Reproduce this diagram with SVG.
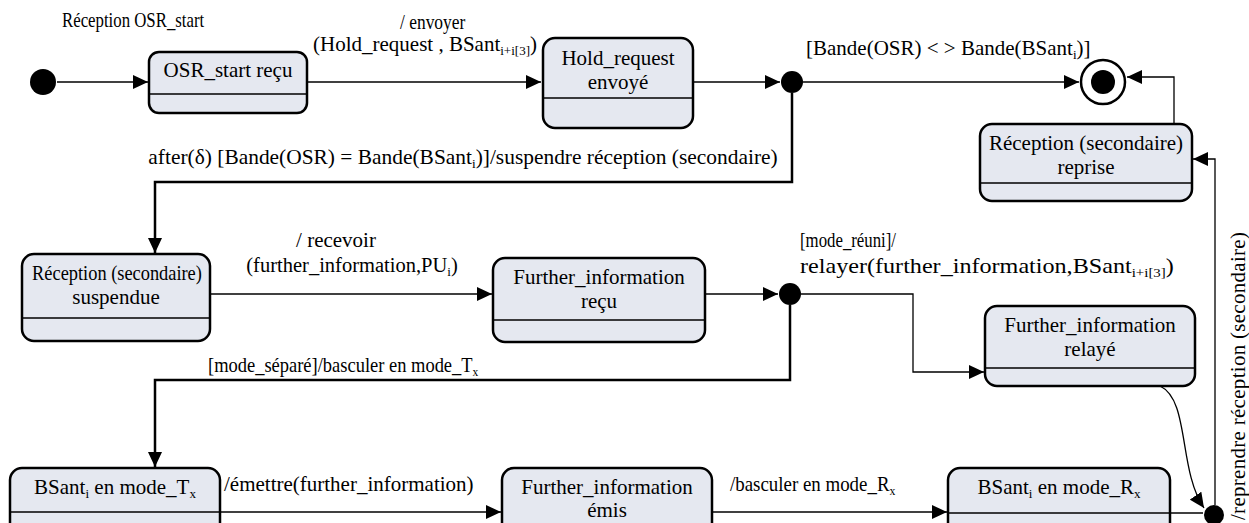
<svg xmlns="http://www.w3.org/2000/svg" width="1249" height="523" viewBox="0 0 1249 523">
<defs>
<style>
.st{fill:#e5e8f0;stroke:#000;stroke-width:2.5}
.dv{fill:none;stroke:#000;stroke-width:1.5}
.t{font-family:"Liberation Serif","Times New Roman",serif;font-size:21px;fill:#000}
.m{text-anchor:middle}
.sb{font-size:13px}
.c{fill:none;stroke:#000;stroke-width:1.3}
.ck{fill:none;stroke:#000;stroke-width:2.5}
.dot{fill:#000}
</style>
<marker id="ah" markerWidth="16" markerHeight="14" refX="15" refY="7" orient="auto" markerUnits="userSpaceOnUse"><path d="M0,0 L15,7 L0,14 z" fill="#000"/></marker>
</defs>
<rect width="1249" height="523" fill="#fff"/>

<g id="connectors">
<path class="c" d="M57,82 H148" marker-end="url(#ah)"/>
<path class="c" d="M307,82 H541" marker-end="url(#ah)"/>
<path class="c" d="M693,82 H780" marker-end="url(#ah)"/>
<path class="c" d="M803,82 H1079" marker-end="url(#ah)"/>
<path class="c" d="M1174,124 V77 H1127" marker-end="url(#ah)"/>
<path class="ck" d="M792,93 V182 H155 V253" marker-end="url(#ah)"/>
<path class="c" d="M210,294 H492" marker-end="url(#ah)"/>
<path class="c" d="M705,294 H778" marker-end="url(#ah)"/>
<path class="c" d="M801,294 H913 V372 H984" marker-end="url(#ah)"/>
<path class="ck" d="M790,305 V380 H155 V467" marker-end="url(#ah)"/>
<path class="c" d="M220,512 H501" marker-end="url(#ah)"/>
<path class="c" d="M712,512 H947" marker-end="url(#ah)"/>
<path class="c" d="M1157,513 H1203"/>
<path class="c" d="M1160,386 C1190,400 1178,470 1204,508" marker-end="url(#ah)"/>
<path class="c" d="M1215,505 V159 H1193" marker-end="url(#ah)"/>
<text class="t" transform="translate(62,27) scale(0.8,1)">Réception OSR_start</text>
<text class="t" transform="translate(400,29) scale(0.83,1)">/ envoyer</text>
<text class="t m" x="425" y="51">(Hold_request , BSant<tspan class="sb" dy="4">i+i[3]</tspan><tspan dy="-4">)</tspan></text>
<text class="t" x="806" y="55">[Bande(OSR) &lt; &gt; Bande(BSant<tspan class="sb" dy="4">i</tspan><tspan dy="-4">)]</tspan></text>
<text class="t m" transform="translate(463,164) scale(1.02,1)">after(δ) [Bande(OSR) = Bande(BSant<tspan class="sb" dy="4">i</tspan><tspan dy="-4">)]/suspendre réception (secondaire)</tspan></text>
<text class="t m" x="336" y="247">/ recevoir</text>
<text class="t m" x="352" y="272" style="font-size:20.5px">(further_information,PU<tspan class="sb" dy="4">i</tspan><tspan dy="-4">)</tspan></text>
<text class="t" transform="translate(800,247) scale(0.8,1)">[mode_réuni]/</text>
<text class="t" transform="translate(800,273) scale(1.15,1)">relayer(further_information,BSant<tspan class="sb" dy="4">i+i[3]</tspan><tspan dy="-4">)</tspan></text>
<text class="t" transform="translate(208,372) scale(0.88,1)">[mode_séparé]/basculer en mode_T<tspan class="sb" dy="4">x</tspan></text>
<text class="t" x="224" y="491">/émettre(further_information)</text>
<text class="t" transform="translate(730,491) scale(0.9,1)">/basculer en mode_R<tspan class="sb" dy="4">x</tspan></text>
<text class="t" transform="translate(1245,520) rotate(-90)" textLength="288" lengthAdjust="spacing">/reprendre réception (secondaire)</text>
</g>

<g id="initial"><circle class="dot" cx="43" cy="82" r="13"/></g>

<g id="osr_recu">
<rect class="st" x="149" y="52" width="158" height="61" rx="10"/>
<line class="dv" x1="149" y1="94" x2="307" y2="94"/>
<text class="t m" x="228" y="77">OSR_start reçu</text>
</g>

<g id="hold_envoye">
<rect class="st" x="543" y="38" width="150" height="90" rx="12"/>
<line class="dv" x1="543" y1="98" x2="693" y2="98"/>
<text class="t m" x="618" y="65">Hold_request</text>
<text class="t m" x="618" y="89">envoyé</text>
</g>

<g id="junction1"><circle class="dot" cx="792" cy="82" r="11"/></g>

<g id="final">
<circle cx="1103" cy="82" r="22" fill="#fff" stroke="#000" stroke-width="2.5"/>
<circle class="dot" cx="1103" cy="82" r="12"/>
</g>

<g id="reprise">
<rect class="st" x="980" y="124" width="212" height="77" rx="12"/>
<line class="dv" x1="980" y1="183" x2="1192" y2="183"/>
<text class="t m" x="1086" y="150">Réception (secondaire)</text>
<text class="t m" x="1086" y="174">reprise</text>
</g>

<g id="suspendue">
<rect class="st" x="22" y="254" width="188" height="87" rx="12"/>
<line class="dv" x1="22" y1="318" x2="210" y2="318"/>
<text class="t m" transform="translate(117,280) scale(0.875,1)">Réception (secondaire)</text>
<text class="t m" x="116" y="304">suspendue</text>
</g>

<g id="further_recu">
<rect class="st" x="493" y="258" width="212" height="84" rx="12"/>
<line class="dv" x1="493" y1="320" x2="705" y2="320"/>
<text class="t m" x="599" y="284">Further_information</text>
<text class="t m" x="599" y="308">reçu</text>
</g>

<g id="junction2"><circle class="dot" cx="790" cy="294" r="11"/></g>

<g id="further_relaye">
<rect class="st" x="985" y="306" width="210" height="80" rx="12"/>
<line class="dv" x1="985" y1="368" x2="1195" y2="368"/>
<text class="t m" x="1090" y="332">Further_information</text>
<text class="t m" x="1090" y="356">relayé</text>
</g>

<g id="bsant_tx">
<rect class="st" x="10" y="468" width="210" height="70" rx="12"/>
<line class="dv" x1="10" y1="512" x2="220" y2="512"/>
<text class="t m" x="115" y="494">BSant<tspan class="sb" dy="4">i</tspan><tspan dy="-4"> en mode_T</tspan><tspan class="sb" dy="4">x</tspan></text>
</g>

<g id="further_emis">
<rect class="st" x="502" y="468" width="210" height="70" rx="12"/>
<text class="t m" x="607" y="494">Further_information</text>
<text class="t m" x="607" y="517">émis</text>
</g>

<g id="bsant_rx">
<rect class="st" x="948" y="468" width="222" height="70" rx="12"/>
<line class="dv" x1="948" y1="513" x2="1170" y2="513"/>
<text class="t m" x="1059" y="494">BSant<tspan class="sb" dy="4">i</tspan><tspan dy="-4"> en mode_R</tspan><tspan class="sb" dy="4">x</tspan></text>
</g>

<g id="junction3"><circle class="dot" cx="1214" cy="515" r="10"/></g>
</svg>
